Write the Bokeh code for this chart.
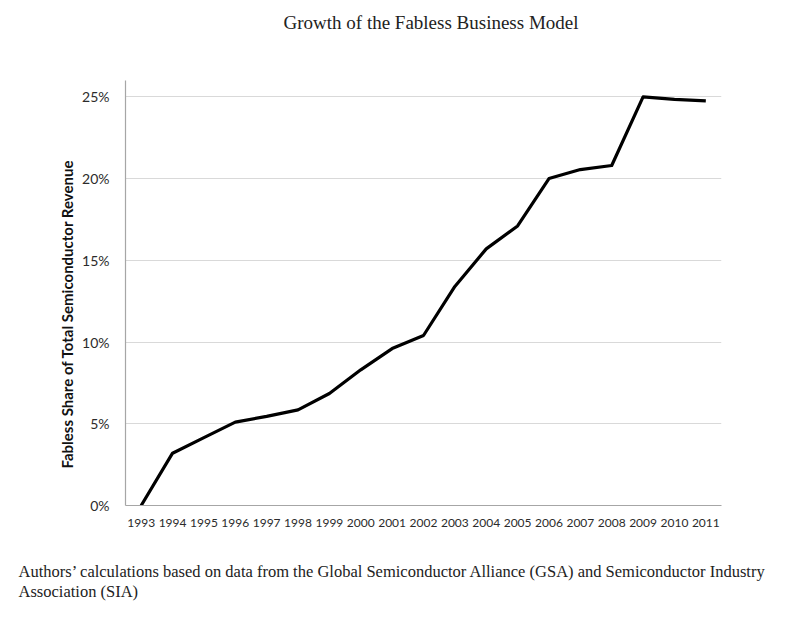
from bokeh.plotting import figure
from bokeh.models import (FactorRange, Range1d, FixedTicker, PrintfTickFormatter, Title,
                          CategoricalAxis)
from bokeh.embed import file_html
from bokeh.resources import INLINE

years = [str(y) for y in range(1993, 2012)]
share = [0.0, 3.2, 4.15, 5.1, 5.45, 5.85, 6.85, 8.3, 9.6, 10.4, 13.4, 15.7,
         17.1, 20.0, 20.55, 20.8, 25.0, 24.85, 24.75]
y_ticks = [0, 5, 10, 15, 20, 25]

title_text = "Growth of the Fabless Business Model"
y_label = "Fabless Share of Total Semiconductor Revenue"
note_1 = ("Authors\u2019 calculations based on data from the Global Semiconductor "
          "Alliance (GSA) and Semiconductor Industry")
note_2 = "Association (SIA)"

W, H = 800, 631
p = figure(width=W, height=H, output_backend="svg", toolbar_location=None,
           x_range=FactorRange(factors=years, range_padding=0),
           y_range=Range1d(0, 26),
           min_border_left=125, min_border_right=W - 721,
           min_border_top=80, min_border_bottom=H - 505)
p.outline_line_color = None
p.background_fill_color = "white"
p.border_fill_color = "white"
p.title.text = ""

p.line(x=years, y=share, line_color="black", line_width=3.2, line_join="round")

# y axis
yax = p.yaxis[0]
yax.ticker = FixedTicker(ticks=y_ticks)
yax.formatter = PrintfTickFormatter(format="%d%%")
yax.major_tick_line_color = None
yax.minor_tick_line_color = None
yax.axis_line_color = "#a6a6a6"
yax.axis_line_width = 1.2
yax.major_label_text_font = "Lato"
yax.major_label_text_font_size = "14px"
yax.major_label_text_color = "#2b2b2b"
yax.major_label_standoff = 10

# x axis
xax = p.xaxis[0]
xax.major_tick_line_color = None
xax.minor_tick_line_color = None
xax.axis_line_color = "#a6a6a6"
xax.axis_line_width = 1.2
xax.major_label_text_font = "Lato"
xax.major_label_text_font_size = "12px"
xax.major_label_text_color = "#2b2b2b"
xax.major_label_standoff = 7

p.xgrid.grid_line_color = None
p.ygrid.ticker = FixedTicker(ticks=y_ticks)
p.ygrid.grid_line_color = "#d9d9d9"
p.ygrid.grid_line_width = 1.2

# invisible spacer above the frame (nothing drawn)
spacer = CategoricalAxis(axis_line_color=None, major_tick_line_color=None,
                         minor_tick_line_color=None, major_tick_out=48,
                         major_tick_in=0, major_label_text_color=None,
                         major_label_text_font_size="0px", major_label_standoff=0)
p.add_layout(spacer, "above")
p.add_layout(Title(text=title_text, align="left", offset=158, standoff=0,
                   text_font="Liberation Serif", text_font_size="19px",
                   text_font_style="normal", text_color="#222222"), "above")

p.add_layout(Title(text=y_label, align="left", offset=37, standoff=8,
                   text_font="Lato", text_font_size="15px",
                   text_font_style="bold", text_color="#111111"), "left")
p.add_layout(Title(text=note_1 + "\n" + note_2, align="left", offset=-107, standoff=60,
                   text_font="Liberation Serif", text_font_size="16.5px",
                   text_line_height=1.1,
                   text_font_style="normal", text_color="#222222"), "below")

open("out.html", "w").write(file_html(p, INLINE))
